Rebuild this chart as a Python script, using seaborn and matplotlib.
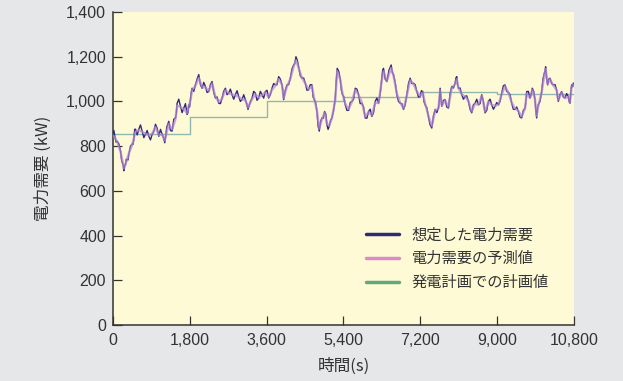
import pandas as pd
import matplotlib.pyplot as plt
import seaborn as sns

t_demand = [0, 43, 98, 176, 230, 253, 293, 332, 371, 449,
            488, 527, 605, 683, 761, 839, 917, 995, 1073, 1151,
            1213, 1307, 1385, 1463, 1502, 1580, 1658, 1736, 1775, 1814,
            1853, 1931, 2009, 2087, 2165, 2243, 2321, 2399, 2477, 2555,
            2633, 2711, 2789, 2867, 2945, 3023, 3101, 3163, 3257, 3335,
            3413, 3491, 3569, 3647, 3725, 3803, 3881, 3959, 3998, 4076,
            4154, 4232, 4286, 4349, 4427, 4505, 4583, 4661, 4715, 4778,
            4832, 4895, 4957, 5012, 5066, 5129, 5207, 5253, 5324, 5378,
            5441, 5519, 5597, 5675, 5753, 5831, 5909, 5987, 6065, 6143,
            6221, 6299, 6338, 6416, 6517, 6572, 6650, 6728, 6806, 6884,
            6962, 7040, 7118, 7196, 7258, 7313, 7391, 7469, 7547, 7625,
            7664, 7703, 7781, 7859, 7937, 8015, 8054, 8093, 8171, 8249,
            8327, 8405, 8483, 8561, 8639, 8717, 8795, 8873, 8951, 9029,
            9107, 9185, 9263, 9341, 9419, 9497, 9575, 9653, 9692, 9770,
            9824, 9887, 9926, 9965, 10043, 10105, 10136, 10183, 10238, 10316,
            10394, 10433, 10511, 10589, 10667, 10706, 10745, 10784, 10800]

demand = [850, 844, 822, 778, 720, 690, 720, 740, 764, 809,
          830, 876, 876, 867, 853, 844, 853, 898, 844, 853,
          815, 911, 867, 926, 992, 978, 970, 942, 985, 1009,
          1059, 1074, 1120, 1059, 1067, 1044, 1089, 1015, 992, 1015,
          1059, 1037, 1030, 1030, 1022, 1008, 1008, 964, 1015, 1037,
          1015, 1030, 1044, 1015, 1059, 1074, 1111, 1074, 1008, 1074,
          1104, 1163, 1200, 1155, 1104, 1081, 1052, 1074, 1008, 955,
          867, 926, 955, 896, 889, 926, 1015, 1148, 1100, 1030,
          985, 960, 1000, 1059, 1030, 992, 926, 955, 933, 1000,
          992, 1104, 1148, 1089, 1163, 1119, 1030, 992, 964, 1030,
          1104, 1081, 1044, 1022, 1044, 985, 930, 881, 964, 970,
          1059, 978, 1008, 970, 1067, 1081, 1111, 1059, 1030, 1022,
          1000, 949, 992, 985, 1030, 949, 1000, 985, 978, 985,
          1037, 1074, 1040, 992, 964, 955, 926, 970, 1044, 1015,
          1059, 1008, 926, 985, 1044, 1126, 1155, 1074, 1104, 1074,
          1052, 1000, 1044, 1015, 1022, 992, 1074, 1081, 1070]

# in-between readings (short spikes of the demand trace)
t_demand_mid = [21, 70, 137, 203, 241, 273, 312, 351, 410, 468,
                507, 566, 644, 722, 800, 878, 956, 1034, 1112, 1182,
                1260, 1346, 1424, 1482, 1541, 1619, 1697, 1755, 1794, 1833,
                1892, 1970, 2048, 2126, 2204, 2282, 2360, 2438, 2516, 2594,
                2672, 2750, 2828, 2906, 2984, 3062, 3132, 3210, 3296, 3374,
                3452, 3530, 3608, 3686, 3764, 3842, 3920, 3978, 4037, 4115,
                4193, 4259, 4317, 4388, 4466, 4544, 4622, 4688, 4746, 4805,
                4863, 4926, 4984, 5039, 5097, 5168, 5230, 5288, 5351, 5409,
                5480, 5558, 5636, 5714, 5792, 5870, 5948, 6026, 6104, 6182,
                6260, 6318, 6377, 6466, 6544, 6611, 6689, 6767, 6845, 6923,
                7001, 7079, 7157, 7227, 7285, 7352, 7430, 7508, 7586, 7644,
                7684, 7742, 7820, 7898, 7976, 8034, 8074, 8132, 8210, 8288,
                8366, 8444, 8522, 8600, 8678, 8756, 8834, 8912, 8990, 9068,
                9146, 9224, 9302, 9380, 9458, 9536, 9614, 9672, 9731, 9797,
                9856, 9906, 9946, 10004, 10074, 10120, 10160, 10210, 10277, 10355,
                10414, 10472, 10550, 10628, 10686, 10726, 10764, 10792]

demand_mid = [870, 818, 810, 735, 712, 712, 742, 738, 800, 808,
              875, 850, 895, 838, 870, 828, 865, 880, 875, 838,
              885, 870, 920, 945, 1010, 950, 990, 950, 975, 1040,
              1045, 1100, 1075, 1085, 1040, 1075, 1040, 1020, 990, 1045,
              1030, 1055, 1010, 1048, 1000, 1030, 990, 995, 1045, 1005,
              1045, 1015, 1050, 1030, 1080, 1075, 1100, 1050, 1050, 1075,
              1145, 1170, 1185, 1115, 1105, 1050, 1075, 1020, 995, 890,
              910, 925, 945, 875, 915, 960, 1090, 1135, 1050, 1020,
              960, 995, 1010, 1055, 990, 975, 925, 965, 950, 1015,
              1035, 1140, 1100, 1140, 1130, 1085, 1000, 990, 985, 1080,
              1080, 1075, 1020, 1048, 1000, 972, 895, 935, 950, 1000,
              1010, 1005, 975, 1035, 1060, 1105, 1075, 1060, 1010, 1025,
              965, 985, 1010, 990, 1000, 960, 1010, 965, 995, 1000,
              1070, 1045, 1030, 965, 975, 930, 960, 995, 1045, 1030,
              1045, 960, 970, 1000, 1100, 1135, 1100, 1100, 1080, 1075,
              1020, 1030, 1020, 1035, 1000, 1040, 1065, 1082]

forecast = [848, 840, 818, 775, 725, 700, 718, 742, 768, 805,
            835, 865, 872, 865, 855, 848, 856, 885, 850, 852,
            825, 900, 875, 920, 980, 975, 965, 948, 978, 1005,
            1050, 1070, 1105, 1065, 1062, 1048, 1080, 1022, 998, 1012,
            1050, 1038, 1030, 1028, 1020, 1010, 1005, 972, 1010, 1032,
            1018, 1028, 1040, 1020, 1052, 1070, 1100, 1075, 1015, 1068,
            1100, 1155, 1185, 1150, 1105, 1080, 1055, 1068, 1012, 960,
            878, 920, 950, 900, 892, 925, 1005, 1135, 1098, 1035,
            990, 965, 998, 1052, 1030, 995, 932, 952, 938, 995,
            992, 1095, 1135, 1090, 1150, 1115, 1035, 995, 968, 1025,
            1095, 1078, 1045, 1025, 1040, 990, 935, 890, 958, 970,
            1050, 980, 1005, 975, 1060, 1078, 1100, 1060, 1032, 1022,
            1002, 955, 990, 985, 1025, 955, 998, 985, 980, 985,
            1032, 1068, 1040, 995, 968, 958, 932, 968, 1035, 1015,
            1052, 1010, 935, 982, 1040, 1115, 1145, 1078, 1100, 1072,
            1050, 1005, 1040, 1015, 1020, 995, 1065, 1075, 1068]

t_plan = [0, 1800, 3600, 5400, 7200, 9000, 10800]
plan = [856, 929, 1003, 1020, 1040, 1035, 1035]

x_ticks = [0, 1800, 3600, 5400, 7200, 9000, 10800]
y_ticks = [0, 200, 400, 600, 800, 1000, 1200, 1400]

lbl_demand = '想定した電力需要'
lbl_forecast = '電力需要の予測値'
lbl_plan = '発電計画での計画値'

df_demand = pd.concat([
    pd.DataFrame({'t': t_demand, 'kw': demand}),
    pd.DataFrame({'t': t_demand_mid, 'kw': demand_mid}),
]).sort_values('t')
df_forecast = pd.DataFrame({'t': t_demand, 'kw': forecast})
df_plan = pd.DataFrame({'t': t_plan, 'kw': plan})

sns.set_theme(style='ticks')
plt.rcParams['font.family'] = ['Noto Sans CJK JP', 'DejaVu Sans']

fig = plt.figure(figsize=(6.23, 3.81), dpi=100, facecolor='#e6e7e9')
ax = fig.add_axes([0.1814, 0.147, 0.7399, 0.8215])
ax.set_facecolor('#fffad6')

sns.lineplot(data=df_plan, x='t', y='kw', ax=ax, color='#8fb8ae', lw=1.0,
             drawstyle='steps-post', label=lbl_plan, zorder=2)
sns.lineplot(data=df_demand, x='t', y='kw', ax=ax, color='#2e2a78', lw=1.0,
             label=lbl_demand, zorder=3)
sns.lineplot(data=df_forecast, x='t', y='kw', ax=ax, color='#b887d6', lw=1.7,
             alpha=0.7, label=lbl_forecast, zorder=4)

ax.set_xlim(0, 10800)
ax.set_ylim(0, 1400)
ax.set_xticks(x_ticks)
ax.set_yticks(y_ticks)
ax.set_xticklabels([f'{v:,}' for v in x_ticks])
ax.set_yticklabels([f'{v:,}' for v in y_ticks])
ax.tick_params(direction='in', length=6.5, width=0.9, colors='#333333',
               labelsize=11.5, pad=5)
ax.tick_params(axis='x', pad=6)
for lab in ax.get_xticklabels() + ax.get_yticklabels():
    lab.set_family('Liberation Sans')
for s in ['top', 'right']:
    ax.spines[s].set_visible(False)
for s in ['left', 'bottom']:
    ax.spines[s].set_color('#333333')
    ax.spines[s].set_linewidth(1.1)

ax.set_xlabel('時間(s)', fontsize=12, color='#333333', labelpad=7)
ax.set_ylabel('電力需要 (kW)', fontsize=12, color='#333333', labelpad=10)

h, l = ax.get_legend_handles_labels()
order = [l.index(lbl_demand), l.index(lbl_forecast), l.index(lbl_plan)]
leg = ax.legend([h[i] for i in order], [l[i] for i in order],
                loc='upper left', bbox_to_anchor=(0.535, 0.335), frameon=False,
                fontsize=11, handlelength=2.2, handletextpad=0.8,
                labelspacing=0.45, borderaxespad=0)
leg_colors = ['#2e2a78', '#d98cc8', '#5fa97c']
for line, c in zip(leg.get_lines(), leg_colors):
    line.set_color(c)
    line.set_alpha(1)
    line.set_linewidth(2.5)
for txt in leg.get_texts():
    txt.set_color('#333333')

plt.savefig('out.png', dpi=100, facecolor=fig.get_facecolor())
